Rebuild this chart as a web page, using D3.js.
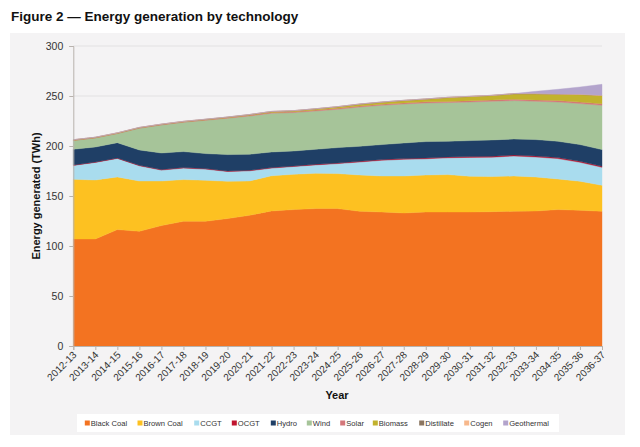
<!DOCTYPE html>
<html>
<head>
<meta charset="utf-8">
<script src="https://cdn.jsdelivr.net/npm/d3@7"></script>
<style>
  body { margin: 0; background: #fff; font-family: Arial, "Liberation Sans", sans-serif; }
  svg text { font-family: Arial, "Liberation Sans", sans-serif; }
</style>
</head>
<body>
<svg id="chart" width="640" height="447"></svg>
<script>

// financial years on the x axis
var years = ["2012-13","2013-14","2014-15","2015-16","2016-17","2017-18","2018-19","2019-20",
  "2020-21","2021-22","2022-23","2023-24","2024-25","2025-26","2026-27","2027-28","2028-29",
  "2029-30","2030-31","2031-32","2032-33","2033-34","2034-35","2035-36","2036-37"];

// generation in TWh
var blackCoal = [107,107,116.4,114.7,120.4,124.7,124.7,127.4,130.7,135,136.4,137.4,137.4,134.7,134,133,134,134,134,134.3,134.7,135,136.4,135.7,134.7];
var brownCoal = [59.7,59,52.6,50.3,44.6,41.7,41,37.3,34.3,35.2,35.3,35.3,35,36.3,36,37,37,37.4,35.7,35.1,35.3,34,30.6,29,26];
var ccgt      = [13.9,17.6,18.6,15.2,10.9,11.5,11.2,9.8,10.2,7.7,7.8,8.4,10,13,15.7,16.7,16.2,16.8,18.9,19.4,20,20,20.4,19,18];
var ocgt      = [0.4,0.4,0.4,0.5,0.5,0.5,0.5,0.5,0.5,0.5,0.5,0.6,0.6,0.7,0.7,0.7,0.8,0.8,0.8,0.9,1,1,1,1,1];
var hydro     = [15.7,15,15.3,15.3,16.6,16,15,16.4,16,15.6,15,15,15.4,15,15,15.6,16.4,15.7,16,16.3,16,16.4,16.3,16.7,16.7];
var wind      = [8.8,9,9.1,21.7,28,29.3,33.3,36.3,38.3,38.8,38.4,38.3,38.3,39.3,39.3,39,38.6,38.7,38.6,38.7,38.4,38.3,39.3,41,44.3];
var solar     = [0.2,0.3,0.3,0.4,0.4,0.5,0.5,0.6,0.7,0.8,0.8,0.9,1,1,1.1,1.1,1.2,1.2,1.3,1.3,1.4,1.4,1.5,1.5,1.6];
var biomass   = [0.3,0.2,0.2,0.2,0.2,0.2,0.3,0.4,0.5,0.7,0.9,1.1,1.4,1.7,1.9,2.3,2.6,3.8,4.1,4.4,5.3,6,6.2,7.5,8.1];
var distillate= [0.2,0.2,0.2,0.2,0.2,0.2,0.2,0.2,0.2,0.2,0.2,0.2,0.2,0.2,0.2,0.2,0.2,0.2,0.2,0.2,0.2,0.2,0.2,0.2,0.2];
var cogen     = [0.1,0.1,0.1,0.1,0.1,0.1,0.1,0.1,0.1,0.1,0.1,0.1,0.1,0.1,0.1,0.1,0.1,0.1,0.1,0.1,0.1,0.1,0.1,0.1,0.1];
var geothermal= [0,0,0,0,0,0,0,0,0,0,0,0,0,0,0,0,0,0,0,0,0,2.3,4.7,7.3,11];

var techNames = ["Black Coal","Brown Coal","CCGT","OCGT","Hydro","Wind","Solar","Biomass","Distillate","Cogen","Geothermal"];
var techColors = ["#f37321","#fdc121","#a9dcee","#c0152f","#1f3f66","#a6c499","#d4777a","#c2b22d","#8b7560","#f7b88c","#b3a4cc"];
var yTicks = [0,50,100,150,200,250,300];

var series = [blackCoal,brownCoal,ccgt,ocgt,hydro,wind,solar,biomass,distillate,cogen,geothermal];

var rows = years.map(function(yr, i) {
  var r = {year: yr};
  techNames.forEach(function(t, k) { r[t] = series[k][i]; });
  return r;
});

var svg = d3.select("#chart");

// grey panel behind everything
svg.append("rect").attr("x",10).attr("y",33).attr("width",615).attr("height",402)
  .attr("fill","#f4f3f4");

svg.append("text").attr("x",11).attr("y",21)
  .attr("font-size",13.5).attr("font-weight","bold").attr("fill","#111")
  .text("Figure 2 \u2014 Energy generation by technology");

var plotLeft = 73.3, plotRight = 602, plotTop = 46, plotBottom = 346;

var x = d3.scalePoint().domain(years).range([plotLeft, plotRight]);
var y = d3.scaleLinear().domain([0,300]).range([plotBottom, plotTop]);

// gridlines
svg.append("g").selectAll("line").data(yTicks.slice(1)).enter().append("line")
  .attr("x1",plotLeft).attr("x2",plotRight)
  .attr("y1",function(d){ return y(d); }).attr("y2",function(d){ return y(d); })
  .attr("stroke","#e2e1e2").attr("stroke-width",1);

var stack = d3.stack().keys(techNames);
var layers = stack(rows);

var area = d3.area()
  .x(function(d){ return x(d.data.year); })
  .y0(function(d){ return y(d[0]); })
  .y1(function(d){ return y(d[1]); });

svg.append("g").selectAll("path").data(layers).enter().append("path")
  .attr("d", area)
  .attr("fill", function(d, i){ return techColors[i]; })
  .attr("stroke", function(d, i){ return techColors[i]; })
  .attr("stroke-width", 0.4);

// y axis
var yAxis = d3.axisLeft(y).tickValues(yTicks).tickSize(4).tickPadding(6);
var gy = svg.append("g").attr("transform","translate(" + plotLeft + ",0)").call(yAxis);
gy.select(".domain").attr("stroke","#b8b2ad");
gy.selectAll(".tick line").attr("stroke","#b8b2ad");
gy.selectAll("text").attr("font-size",10.5).attr("fill","#333");

// x axis, labels slanted at 45 degrees ending at the tick
var xAxis = d3.axisBottom(x).tickSize(4).tickPadding(3);
var gx = svg.append("g").attr("transform","translate(0," + plotBottom + ")").call(xAxis);
gx.select(".domain").attr("stroke","#b8b2ad");
gx.selectAll(".tick line").attr("stroke","#b8b2ad");
gx.selectAll("text").attr("font-size",10).attr("fill","#333")
  .attr("text-anchor","end")
  .attr("x",0).attr("y",0).attr("dx",0).attr("dy","0.35em")
  .attr("transform","translate(1,7) rotate(-45)");

svg.append("text").attr("x",337).attr("y",399).attr("text-anchor","middle")
  .attr("font-size",11).attr("font-weight","bold").attr("fill","#111").text("Year");

svg.append("text").attr("transform","translate(40,196) rotate(-90)")
  .attr("text-anchor","middle").attr("font-size",11).attr("font-weight","bold").attr("fill","#111")
  .text("Energy generated (TWh)");

// legend
svg.append("rect").attr("x",77).attr("y",414).attr("width",482).attr("height",18).attr("fill","#fff");
var legendX = [87.3,140,196.7,234.3,273.3,309.3,342.7,375.3,421.7,466.7,505.7];
var lg = svg.append("g").selectAll("g").data(techNames).enter().append("g")
  .attr("transform", function(d, i){ return "translate(" + legendX[i] + ",423)"; });
lg.append("rect").attr("x",-2.5).attr("y",-2.5).attr("width",5).attr("height",5)
  .attr("fill", function(d, i){ return techColors[i]; });
lg.append("text").attr("x",3.5).attr("y",2.8).attr("font-size",7.6).attr("fill","#333")
  .text(function(d){ return d; });

</script>
</body>
</html>
